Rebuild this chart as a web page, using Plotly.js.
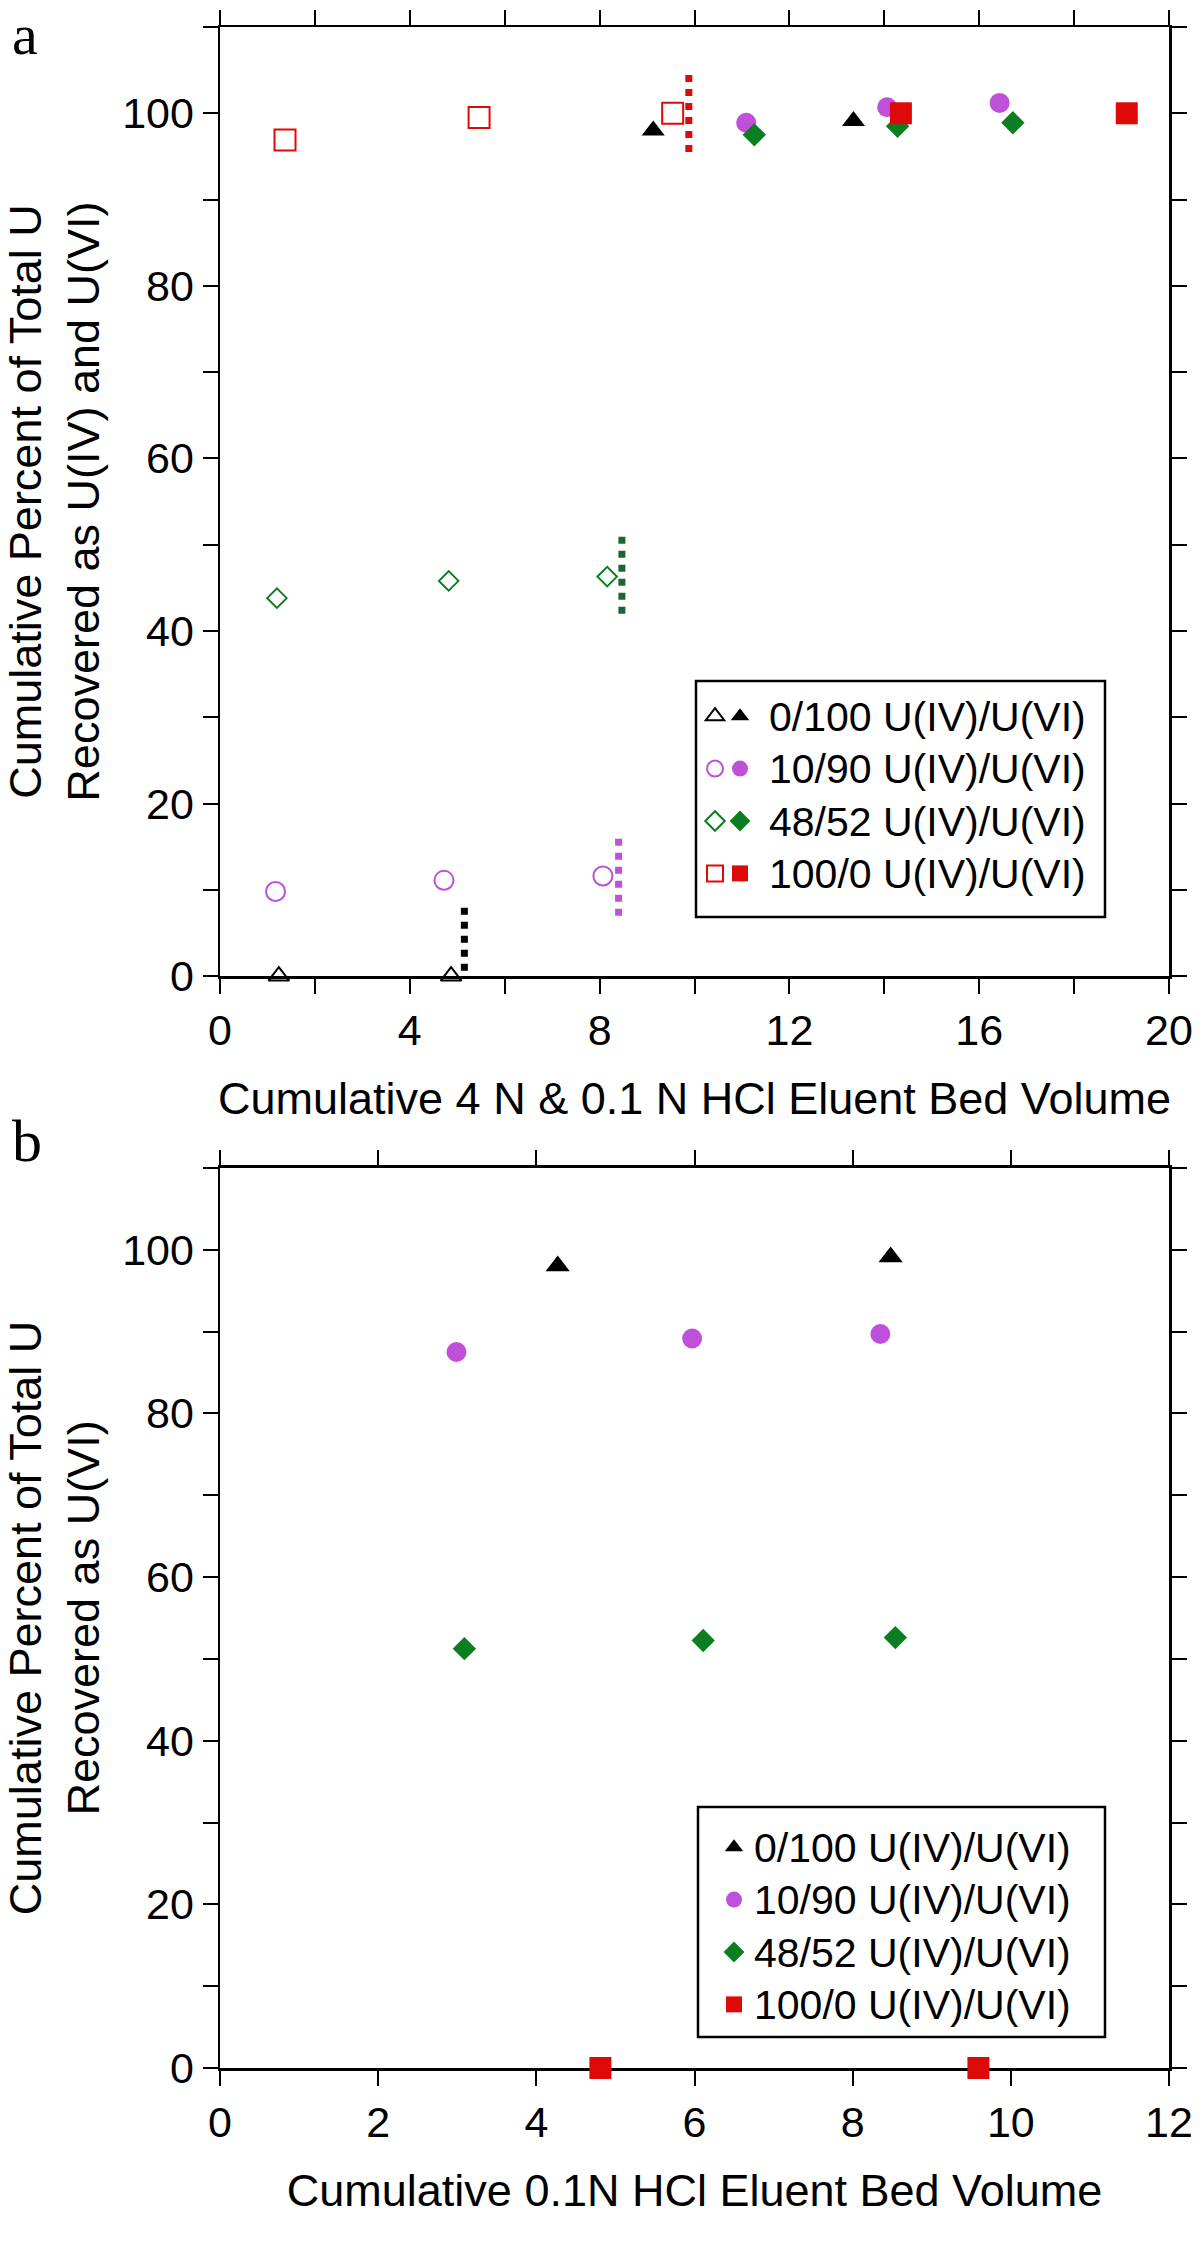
<!DOCTYPE html>
<html>
<head>
<meta charset="utf-8">
<script src="https://cdn.plot.ly/plotly-3.0.1.min.js"></script>
<style>html,body{margin:0;padding:0;background:#fff;}</style>
</head>
<body>
<div id="chart" style="width:1200px;height:2245px;"></div>
<script>
// ---------- Panel a: cumulative 4 N & 0.1 N HCl eluent ----------
const seriesNames = ["0/100 U(IV)/U(VI)", "10/90 U(IV)/U(VI)", "48/52 U(IV)/U(VI)", "100/0 U(IV)/U(VI)"];

// open symbols
const aTriOpenX = [1.24, 4.87];
const aTriOpenY = [0, 0];
const aCircOpenX = [1.17, 4.72, 8.07];
const aCircOpenY = [9.8, 11.1, 11.6];
const aDiaOpenX = [1.20, 4.82, 8.16];
const aDiaOpenY = [43.8, 45.8, 46.3];
const aSqOpenX = [1.37, 5.46, 9.54];
const aSqOpenY = [96.9, 99.5, 100.0];

// filled symbols
const aTriFillX = [9.13, 13.35];
const aTriFillY = [98.0, 99.1];
const aCircFillX = [11.09, 14.06, 16.43];
const aCircFillY = [98.9, 100.7, 101.2];
const aDiaFillX = [11.26, 14.28, 16.71];
const aDiaFillY = [97.5, 98.5, 98.9];
const aSqFillX = [14.35, 19.11];
const aSqFillY = [100.0, 100.0];

// dotted eluent-switch markers: x position, y start, y end
const switchX = [5.15, 8.40, 8.47, 9.88];
const switchY0 = [-1, 7, 42, 95.5];
const switchY1 = [8, 16, 51, 104.5];

// ---------- Panel b: cumulative 0.1 N HCl eluent ----------
const bTriX = [4.27, 8.48];
const bTriY = [98.0, 99.1];
const bCircX = [2.99, 5.97, 8.35];
const bCircY = [87.5, 89.15, 89.7];
const bDiaX = [3.09, 6.11, 8.54];
const bDiaY = [51.25, 52.25, 52.6];
const bSqX = [4.81, 9.59];
const bSqY = [0, 0];

// tick labels
const aXTickVals = [0, 2, 4, 6, 8, 10, 12, 14, 16, 18, 20];
const aXTickText = ["0", "", "4", "", "8", "", "12", "", "16", "", "20"];
const yTickVals = [0, 10, 20, 30, 40, 50, 60, 70, 80, 90, 100, 110];
const yTickText = ["0", "", "20", "", "40", "", "60", "", "80", "", "100", ""];
const bXTickVals = [0, 2, 4, 6, 8, 10, 12];
const bXTickText = ["0", "2", "4", "6", "8", "10", "12"];

// ---------- styling ----------
const BLACK = "#000000";
const PURPLE = "#BF50DA";
const GREEN = "#0B7E22";
const DKGREEN = "#1E6534";
const RED = "#DE0A0A";
const switchColors = [BLACK, PURPLE, DKGREEN, RED];
const FONT = "Liberation Sans, Arial, Helvetica, sans-serif";
const SERIF = "Liberation Serif, Times New Roman, serif";

function legendName(s) { return '<span style="font-size:41px">' + s + '</span>'; }

function pts(x, y, symbol, color, size, opts) {
  const open = symbol.indexOf("open") >= 0;
  return Object.assign({
    type: "scatter", mode: "markers", x: x, y: y, cliponaxis: false,
    marker: {symbol: symbol, size: size, color: color,
             line: {width: open ? 2 : 0, color: color}},
    hoverinfo: "x+y"
  }, opts);
}

const traces = [];
// panel a open symbols (legend 1: symbols only)
traces.push(pts(aTriOpenX, aTriOpenY, "triangle-up-open", BLACK, 18, {name: "\u2002", legend: "legend", xaxis: "x", yaxis: "y"}));
traces.push(pts(aCircOpenX, aCircOpenY, "circle-open", PURPLE, 19, {name: "\u2002", legend: "legend", xaxis: "x", yaxis: "y"}));
traces.push(pts(aDiaOpenX, aDiaOpenY, "diamond-open", GREEN, 15, {name: "\u2002", legend: "legend", xaxis: "x", yaxis: "y"}));
traces.push(pts(aSqOpenX, aSqOpenY, "square-open", RED, 21, {name: "\u2002", legend: "legend", xaxis: "x", yaxis: "y"}));
// panel a filled symbols (legend 2)
traces.push(pts(aTriFillX, aTriFillY, "triangle-up", BLACK, 20, {name: legendName(seriesNames[0]), legend: "legend2", xaxis: "x", yaxis: "y"}));
traces.push(pts(aCircFillX, aCircFillY, "circle", PURPLE, 20, {name: legendName(seriesNames[1]), legend: "legend2", xaxis: "x", yaxis: "y"}));
traces.push(pts(aDiaFillX, aDiaFillY, "diamond", GREEN, 18, {name: legendName(seriesNames[2]), legend: "legend2", xaxis: "x", yaxis: "y"}));
traces.push(pts(aSqFillX, aSqFillY, "square", RED, 22, {name: legendName(seriesNames[3]), legend: "legend2", xaxis: "x", yaxis: "y"}));
// dotted switch markers
for (let i = 0; i < switchX.length; i++) {
  traces.push({
    type: "scatter", mode: "lines", x: [switchX[i], switchX[i]], y: [switchY0[i], switchY1[i]],
    line: {color: switchColors[i], width: 7, dash: "7px,7px"}, cliponaxis: false,
    showlegend: false, hoverinfo: "skip", xaxis: "x", yaxis: "y"
  });
}
// panel b (legend 3)
traces.push(pts(bTriX, bTriY, "triangle-up", BLACK, 21, {name: legendName(seriesNames[0]), legend: "legend3", xaxis: "x2", yaxis: "y2"}));
traces.push(pts(bCircX, bCircY, "circle", PURPLE, 20, {name: legendName(seriesNames[1]), legend: "legend3", xaxis: "x2", yaxis: "y2"}));
traces.push(pts(bDiaX, bDiaY, "diamond", GREEN, 18, {name: legendName(seriesNames[2]), legend: "legend3", xaxis: "x2", yaxis: "y2"}));
traces.push(pts(bSqX, bSqY, "square", RED, 22, {name: legendName(seriesNames[3]), legend: "legend3", xaxis: "x2", yaxis: "y2"}));

const axBase = {
  showline: true, linewidth: 2.5, linecolor: BLACK, mirror: "ticks",
  ticks: "outside", ticklen: 15, tickwidth: 2, tickcolor: BLACK,
  showgrid: false, zeroline: false, layer: "below traces",
  tickfont: {family: FONT, size: 43, color: BLACK},
  tickmode: "array", fixedrange: true
};

const legendBase = {
  bgcolor: "rgba(0,0,0,0)", borderwidth: 0, xanchor: "left", yanchor: "top",
  font: {family: FONT, size: 38, color: BLACK}, itemsizing: "trace", traceorder: "normal"
};

// pixel helpers for layout positions (plot area: x 220..1169, y 27..2068)
const px = v => (v - 220) / 949;
const py = v => (2068 - v) / 2041;

const layout = {
  width: 1200, height: 2245,
  margin: {l: 220, r: 31, t: 27, b: 177, pad: 0},
  paper_bgcolor: "#ffffff", plot_bgcolor: "#ffffff",
  font: {family: FONT, color: BLACK},
  showlegend: true,
  xaxis: Object.assign({}, axBase, {
    domain: [0, 1], anchor: "y", range: [0, 20],
    tickvals: aXTickVals, ticktext: aXTickText,
    title: {text: "Cumulative 4 N &amp; 0.1 N HCl Eluent Bed Volume", font: {family: FONT, size: 45, color: BLACK}, standoff: 30}
  }),
  yaxis: Object.assign({}, axBase, {
    domain: [0.535, 1], anchor: "x", range: [0, 110],
    tickvals: yTickVals, ticktext: yTickText,
    title: {text: "Cumulative Percent of Total U<br>Recovered as U(IV) and U(VI)", font: {family: FONT, size: 45, color: BLACK}, standoff: 18}
  }),
  xaxis2: Object.assign({}, axBase, {
    domain: [0, 1], anchor: "y2", range: [0, 12],
    tickvals: bXTickVals, ticktext: bXTickText,
    title: {text: "Cumulative 0.1N HCl Eluent Bed Volume", font: {family: FONT, size: 45, color: BLACK}, standoff: 30}
  }),
  yaxis2: Object.assign({}, axBase, {
    domain: [0, 0.441], anchor: "x2", range: [0, 110],
    tickvals: yTickVals, ticktext: yTickText,
    title: {text: "Cumulative Percent of Total U<br>Recovered as U(VI)", font: {family: FONT, size: 45, color: BLACK}, standoff: 18}
  }),
  legend: Object.assign({}, legendBase, {x: px(695), y: py(685)}),
  legend2: Object.assign({}, legendBase, {x: px(711), y: py(685), itemwidth: 48}),
  legend3: Object.assign({}, legendBase, {x: px(714), y: py(1816), itemwidth: 30}),
  shapes: [
    {type: "rect", xref: "paper", yref: "paper", x0: px(696), x1: px(1105),
     y0: py(917), y1: py(681), line: {color: BLACK, width: 2.5}, fillcolor: "rgba(0,0,0,0)", layer: "below"},
    {type: "rect", xref: "paper", yref: "paper", x0: px(698), x1: px(1105),
     y0: py(2037), y1: py(1807), line: {color: BLACK, width: 2.5}, fillcolor: "rgba(0,0,0,0)", layer: "below"}
  ],
  annotations: [
    {text: "a", xref: "paper", yref: "paper", x: px(10), y: py(0),
     xanchor: "left", yanchor: "top", showarrow: false,
     font: {family: SERIF, size: 58, color: BLACK}},
    {text: "b", xref: "paper", yref: "paper", x: px(10), y: py(1176),
     xanchor: "left", yanchor: "bottom", showarrow: false,
     font: {family: SERIF, size: 60, color: BLACK}}
  ]
};

Plotly.newPlot("chart", traces, layout, {staticPlot: true, displayModeBar: false});
</script>
</body>
</html>
